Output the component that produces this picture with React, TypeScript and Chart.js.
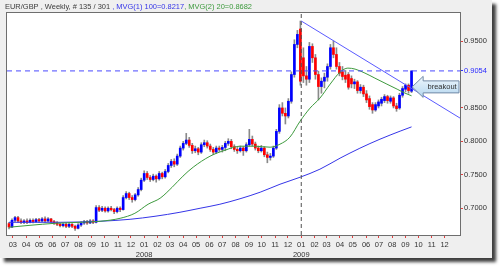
import React, { useEffect, useRef } from 'react';
import { Chart, registerables } from 'chart.js';

Chart.register(...registerables);

// ---- weekly candles (week index 0 = week of 2007-02-20) ----
const opens = [
  0.677, 0.672, 0.682, 0.686, 0.681, 0.679, 0.681, 0.679, 0.682, 0.680,
  0.683, 0.681, 0.684, 0.681, 0.684, 0.680, 0.678, 0.676, 0.674, 0.676,
  0.673, 0.676, 0.673, 0.670, 0.675, 0.678, 0.680, 0.678, 0.681, 0.679,
  0.701, 0.697, 0.700, 0.696, 0.700, 0.698, 0.695, 0.700, 0.698, 0.716,
  0.722, 0.716, 0.713, 0.720, 0.728, 0.742, 0.752, 0.746, 0.743, 0.748,
  0.744, 0.752, 0.747, 0.755, 0.764, 0.770, 0.766, 0.778, 0.790, 0.797,
  0.802, 0.794, 0.786, 0.789, 0.784, 0.795, 0.798, 0.793, 0.788, 0.784,
  0.790, 0.788, 0.791, 0.797, 0.800, 0.792, 0.788, 0.786, 0.790, 0.786,
  0.795, 0.803, 0.796, 0.790, 0.786, 0.790, 0.780, 0.776, 0.778, 0.790,
  0.815, 0.850, 0.842, 0.838, 0.860, 0.900, 0.945, 0.968, 0.925, 0.898,
  0.893, 0.942, 0.925, 0.900, 0.882, 0.890, 0.896, 0.912, 0.940, 0.930,
  0.912, 0.904, 0.899, 0.900, 0.894, 0.886, 0.889, 0.876, 0.881, 0.871,
  0.864, 0.855, 0.847, 0.853, 0.857, 0.861, 0.867, 0.860, 0.865, 0.853,
  0.850, 0.869, 0.878, 0.884, 0.875,
];
const highs = [
  0.679, 0.684, 0.688, 0.688, 0.684, 0.683, 0.684, 0.684, 0.684, 0.685,
  0.685, 0.686, 0.687, 0.686, 0.685, 0.682, 0.680, 0.678, 0.678, 0.678,
  0.678, 0.677, 0.675, 0.677, 0.680, 0.682, 0.682, 0.683, 0.683, 0.704,
  0.704, 0.703, 0.702, 0.702, 0.703, 0.700, 0.702, 0.702, 0.719, 0.725,
  0.724, 0.719, 0.722, 0.731, 0.745, 0.756, 0.755, 0.749, 0.751, 0.750,
  0.755, 0.754, 0.758, 0.767, 0.773, 0.774, 0.781, 0.793, 0.800, 0.812,
  0.806, 0.797, 0.793, 0.791, 0.798, 0.802, 0.801, 0.796, 0.791, 0.793,
  0.793, 0.794, 0.800, 0.804, 0.803, 0.795, 0.791, 0.793, 0.792, 0.798,
  0.818, 0.808, 0.799, 0.793, 0.794, 0.792, 0.784, 0.782, 0.793, 0.818,
  0.855, 0.858, 0.850, 0.864, 0.904, 0.952, 0.966, 0.980, 0.940, 0.912,
  0.948, 0.946, 0.930, 0.905, 0.895, 0.902, 0.916, 0.945, 0.950, 0.940,
  0.918, 0.912, 0.906, 0.903, 0.898, 0.893, 0.891, 0.885, 0.884, 0.876,
  0.868, 0.858, 0.858, 0.862, 0.866, 0.870, 0.869, 0.868, 0.867, 0.857,
  0.872, 0.882, 0.886, 0.886, 0.9054,
];
const lows = [
  0.669, 0.671, 0.680, 0.679, 0.677, 0.677, 0.677, 0.678, 0.678, 0.679,
  0.679, 0.680, 0.679, 0.680, 0.678, 0.676, 0.674, 0.672, 0.672, 0.671,
  0.671, 0.671, 0.667, 0.669, 0.673, 0.676, 0.676, 0.677, 0.677, 0.678,
  0.695, 0.695, 0.694, 0.694, 0.696, 0.692, 0.693, 0.695, 0.697, 0.714,
  0.713, 0.709, 0.711, 0.718, 0.726, 0.740, 0.743, 0.740, 0.741, 0.739,
  0.742, 0.744, 0.745, 0.753, 0.761, 0.762, 0.764, 0.776, 0.787, 0.795,
  0.791, 0.782, 0.783, 0.780, 0.782, 0.792, 0.790, 0.785, 0.780, 0.782,
  0.785, 0.784, 0.786, 0.794, 0.789, 0.785, 0.782, 0.784, 0.779, 0.784,
  0.793, 0.793, 0.787, 0.783, 0.784, 0.777, 0.768, 0.772, 0.776, 0.788,
  0.812, 0.838, 0.826, 0.835, 0.857, 0.896, 0.940, 0.884, 0.888, 0.884,
  0.888, 0.918, 0.893, 0.862, 0.872, 0.880, 0.890, 0.908, 0.925, 0.908,
  0.898, 0.892, 0.888, 0.878, 0.880, 0.879, 0.872, 0.872, 0.867, 0.858,
  0.848, 0.842, 0.845, 0.850, 0.853, 0.858, 0.857, 0.857, 0.850, 0.845,
  0.848, 0.866, 0.874, 0.872, 0.873,
];
const closes = [
  0.672, 0.682, 0.686, 0.681, 0.679, 0.681, 0.679, 0.682, 0.680, 0.683,
  0.681, 0.684, 0.681, 0.684, 0.680, 0.678, 0.676, 0.674, 0.676, 0.673,
  0.676, 0.673, 0.670, 0.675, 0.678, 0.680, 0.678, 0.681, 0.679, 0.701,
  0.697, 0.700, 0.696, 0.700, 0.698, 0.695, 0.700, 0.698, 0.716, 0.722,
  0.716, 0.713, 0.720, 0.728, 0.742, 0.752, 0.746, 0.743, 0.748, 0.744,
  0.752, 0.747, 0.755, 0.764, 0.770, 0.766, 0.778, 0.790, 0.797, 0.802,
  0.794, 0.786, 0.789, 0.784, 0.795, 0.798, 0.793, 0.788, 0.784, 0.790,
  0.788, 0.791, 0.797, 0.800, 0.792, 0.788, 0.786, 0.790, 0.786, 0.795,
  0.803, 0.796, 0.790, 0.786, 0.790, 0.780, 0.776, 0.778, 0.790, 0.815,
  0.850, 0.842, 0.838, 0.860, 0.900, 0.945, 0.960, 0.890, 0.898, 0.893,
  0.942, 0.925, 0.900, 0.882, 0.890, 0.896, 0.912, 0.940, 0.930, 0.912,
  0.902, 0.897, 0.893, 0.881, 0.886, 0.889, 0.876, 0.881, 0.871, 0.862,
  0.852, 0.847, 0.855, 0.859, 0.863, 0.867, 0.861, 0.865, 0.853, 0.849,
  0.869, 0.879, 0.884, 0.876, 0.9054,
];

// ---- moving averages (week index, value) ----
const maSlowX = [0, 17, 30.3, 40.3, 48.6, 56.9, 63.6, 70.2, 76.9, 83.6, 90.2, 96.9, 103.5, 110.2, 116.8, 123.5, 130.2, 134];
const maSlowY = [0.679, 0.679, 0.6805, 0.6835, 0.688, 0.694, 0.7, 0.706, 0.7142, 0.724, 0.7359, 0.7464, 0.7584, 0.7749, 0.7898, 0.8033, 0.8153, 0.8217];
const maFastX = [0, 7, 15.3, 23.6, 30.3, 37, 41.9, 46.3, 50.3, 54.3, 57.9, 61.3, 66.9, 71.9, 76.9, 81.9, 86.9, 90.2, 93.5, 96.9, 100.2, 103.5, 106.9, 110.2, 112.8, 115.2, 118.5, 121.8, 125.8, 129.2, 131.8, 134];
const maFastY = [0.6716, 0.6745, 0.6775, 0.679, 0.6805, 0.685, 0.6925, 0.706, 0.715, 0.7314, 0.748, 0.7614, 0.7778, 0.7868, 0.7928, 0.7928, 0.7913, 0.7958, 0.8063, 0.8302, 0.8497, 0.8647, 0.8856, 0.9036, 0.9096, 0.9081, 0.9021, 0.8946, 0.8856, 0.8781, 0.8722, 0.8682];

// ---- trend line (week index, value) ----
const trendX = [97.29, 150.2];
const trendY = [0.98, 0.8347];

// ---- labels / ticks ----
const monthTickLabels = [
  '03', '04', '05', '06', '07', '08', '09', '10', '11', '12',
  '01', '02', '03', '04', '05', '06', '07', '08', '09', '10', '11', '12',
  '01', '02', '03', '04', '05', '06', '07', '08', '09', '10', '11', '12',
];
const yearTickLabels = ['2008', '2009'];
const yearTickYears = [2008, 2009];
const yTickValues = [0.7, 0.75, 0.8, 0.85, 0.9054, 0.95];
const lastPrice = 0.9054;
const titleParts = [
  { text: 'EUR/GBP , Weekly, # 135 / 301 ', color: '#3a3a3a' },
  { text: ', MVG(1) 100=0.8217', color: '#3535e8' },
  { text: ', MVG(2) 20=0.8682', color: '#3d9a3d' },
];
const calloutText = 'breakout';

const X_MIN = -0.67;
const X_MAX = 150.13;
const Y_MIN = 0.66;
const Y_MAX = 0.992;
const FONT = 'Liberation Sans, Arial, sans-serif';

const firstWeekUTC = Date.UTC(2007, 1, 20);
const WEEK_MS = 7 * 86400000;
const toWeek = (y: number, m: number) => (Date.UTC(y, m, 1) - firstWeekUTC) / WEEK_MS;
const monthTickPos = monthTickLabels.map((_, k) => toWeek(2007, 2 + k));
const yearTickPos = yearTickYears.map((y) => toWeek(y, 0));
const dividerX = toWeek(2009, 0);
const calloutAt = { x: 134.2, y: 0.8815 };

const panelPlugin = {
  id: 'panel',
  beforeDraw(chart: any) {
    const { ctx, chartArea: a } = chart;
    ctx.save();
    ctx.fillStyle = '#ffffff';
    ctx.fillRect(0, 0, chart.width, chart.height);
    ctx.shadowColor = 'rgba(0,0,0,0.75)';
    ctx.shadowBlur = 3;
    ctx.shadowOffsetX = 4;
    ctx.shadowOffsetY = 4;
    ctx.fillStyle = '#efefef';
    ctx.fillRect(0, 0, 492, 258);
    ctx.shadowColor = 'transparent';
    ctx.fillStyle = '#ffffff';
    ctx.fillRect(a.left, a.top, a.right - a.left, a.bottom - a.top);
    ctx.restore();
  },
  afterDraw(chart: any) {
    const { ctx, chartArea: a } = chart;
    ctx.save();
    // plot frame
    ctx.strokeStyle = '#6e6e6e';
    ctx.lineWidth = 1;
    ctx.strokeRect(a.left - 0.5, a.top - 0.5, a.right - a.left + 1, a.bottom - a.top + 1);

    // title
    ctx.font = `8px ${FONT}`;
    ctx.textBaseline = 'middle';
    const full = titleParts.map((p) => p.text).join('');
    const w = ctx.measureText(full).width;
    const sx = 247 / w;
    ctx.translate(5, 7);
    ctx.scale(sx, 1);
    let cx = 0;
    for (const p of titleParts) {
      ctx.fillStyle = p.color;
      ctx.fillText(p.text, cx, 0);
      cx += ctx.measureText(p.text).width;
    }
    ctx.restore();

    // breakout callout
    const xs = chart.scales.x;
    const ys = chart.scales.y;
    const tx = xs.getPixelForValue(calloutAt.x);
    const ty = ys.getPixelForValue(calloutAt.y);
    const hx = tx + 11;
    const rx = a.right - 1;
    ctx.save();
    ctx.beginPath();
    ctx.moveTo(tx, ty);
    ctx.lineTo(hx, ty - 10.5);
    ctx.lineTo(hx, ty - 6);
    ctx.lineTo(rx, ty - 6);
    ctx.lineTo(rx, ty + 6);
    ctx.lineTo(hx, ty + 6);
    ctx.lineTo(hx, ty + 10.5);
    ctx.closePath();
    const g = ctx.createLinearGradient(0, ty - 10, 0, ty + 10);
    g.addColorStop(0, '#eef6fc');
    g.addColorStop(1, '#b4d6ef');
    ctx.fillStyle = g;
    ctx.fill();
    ctx.strokeStyle = '#7089a6';
    ctx.lineWidth = 1;
    ctx.stroke();
    ctx.fillStyle = '#333333';
    ctx.font = `7.5px ${FONT}`;
    ctx.textAlign = 'center';
    ctx.textBaseline = 'middle';
    ctx.fillText(calloutText, (hx + rx) / 2 + 1, ty);
    ctx.restore();
  },
};

export default function App() {
  const ref = useRef<HTMLCanvasElement | null>(null);

  useEffect(() => {
    if (!ref.current) return;
    const idx = opens.map((_, i) => i);
    const wicks = idx.map((i) => ({ x: i, y: [lows[i], highs[i]] }));
    const ups = idx.filter((i) => closes[i] >= opens[i]).map((i) => ({ x: i, y: [opens[i], closes[i]] }));
    const downs = idx.filter((i) => closes[i] < opens[i]).map((i) => ({ x: i, y: [closes[i], opens[i]] }));
    const line = (xsArr: number[], ysArr: number[]) => xsArr.map((x, k) => ({ x, y: ysArr[k] }));

    const chart = new Chart(ref.current, {
      type: 'bar',
      data: {
        datasets: [
          {
            type: 'line',
            data: line(trendX, trendY),
            borderColor: '#5a5aff',
            borderWidth: 1,
            pointRadius: 0,
            order: 0,
          } as any,
          {
            type: 'line',
            data: line([X_MIN, X_MAX], [lastPrice, lastPrice]),
            borderColor: '#4a4aff',
            borderWidth: 1,
            borderDash: [5, 4],
            pointRadius: 0,
            order: 1,
          } as any,
          {
            type: 'line',
            data: line([dividerX, dividerX], [Y_MIN, Y_MAX]),
            borderColor: '#505050',
            borderWidth: 1,
            borderDash: [4, 3],
            pointRadius: 0,
            order: 2,
          } as any,
          {
            type: 'line',
            data: line(maFastX, maFastY),
            borderColor: '#3d9a3d',
            borderWidth: 1,
            pointRadius: 0,
            cubicInterpolationMode: 'monotone',
            order: 3,
          } as any,
          {
            type: 'line',
            data: line(maSlowX, maSlowY),
            borderColor: '#3535e8',
            borderWidth: 1,
            pointRadius: 0,
            cubicInterpolationMode: 'monotone',
            order: 4,
          } as any,
          {
            type: 'bar',
            data: ups,
            backgroundColor: '#0000ff',
            barThickness: 2,
            minBarLength: 1,
            grouped: false,
            order: 5,
          } as any,
          {
            type: 'bar',
            data: downs,
            backgroundColor: '#ff0000',
            barThickness: 2,
            minBarLength: 1,
            grouped: false,
            order: 6,
          } as any,
          {
            type: 'bar',
            data: wicks,
            backgroundColor: '#8a8a8a',
            barThickness: 1,
            grouped: false,
            order: 7,
          } as any,
        ],
      },
      options: {
        responsive: false,
        animation: false,
        events: [],
        layout: { padding: { left: 7, top: 13, right: 0, bottom: 0 } },
        plugins: { legend: { display: false }, tooltip: { enabled: false }, title: { display: false } },
        scales: {
          x: {
            type: 'linear',
            position: 'bottom',
            min: X_MIN,
            max: X_MAX,
            offset: false,
            weight: 0,
            grid: { drawOnChartArea: false, drawTicks: true, tickLength: 3, tickColor: '#e04040', offset: false },
            border: { display: false },
            ticks: {
              autoSkip: false,
              maxRotation: 0,
              minRotation: 0,
              padding: 2,
              color: '#333333',
              font: { family: FONT, size: 7.5 },
              callback: (_v: any, i: number) => monthTickLabels[i],
            },
            afterBuildTicks: (s: any) => {
              s.ticks = monthTickPos.map((v) => ({ value: v }));
            },
            afterFit: (s: any) => {
              s.height = 15;
            },
          },
          x2: {
            type: 'linear',
            axis: 'x',
            position: 'bottom',
            min: X_MIN,
            max: X_MAX,
            offset: false,
            weight: 1,
            grid: { display: false, drawTicks: false },
            border: { display: false },
            ticks: {
              autoSkip: false,
              maxRotation: 0,
              padding: 0,
              color: '#333333',
              font: { family: FONT, size: 7.5 },
              callback: (_v: any, i: number) => yearTickLabels[i],
            },
            afterBuildTicks: (s: any) => {
              s.ticks = yearTickPos.map((v) => ({ value: v }));
            },
            afterFit: (s: any) => {
              s.height = 18;
            },
          },
          y: {
            type: 'linear',
            position: 'right',
            min: Y_MIN,
            max: Y_MAX,
            beginAtZero: false,
            grid: {
              drawOnChartArea: false,
              drawTicks: true,
              tickLength: 3,
              tickColor: (c: any) => (c.tick && c.tick.value === lastPrice ? '#3030ff' : '#e04040'),
            },
            border: { display: false },
            ticks: {
              padding: 1,
              font: { family: FONT, size: 7.5 },
              color: (c: any) => (c.tick && c.tick.value === lastPrice ? '#2a2aff' : '#333333'),
              callback: (v: any) => Number(v).toFixed(4),
            },
            afterBuildTicks: (s: any) => {
              s.ticks = yTickValues.map((v) => ({ value: v }));
            },
            afterFit: (s: any) => {
              s.width = 40;
            },
          },
        },
      } as any,
      plugins: [panelPlugin],
    });
    return () => chart.destroy();
  }, []);

  return (
    <div style={{ position: 'absolute', left: 0, top: 0, width: 500, height: 268 }}>
      <canvas ref={ref} width={500} height={268} style={{ display: 'block', width: 500, height: 268 }} />
    </div>
  );
}
